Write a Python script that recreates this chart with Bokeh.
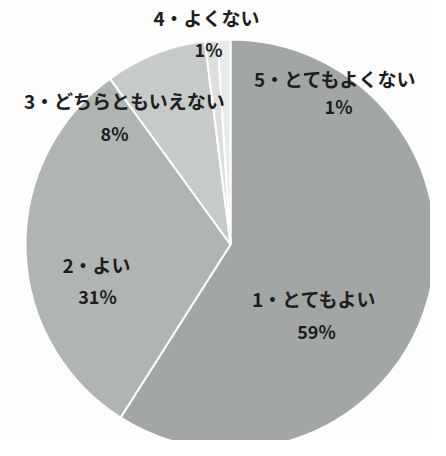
import numpy as np
from bokeh.plotting import figure
from bokeh.models import ColumnDataSource, Range1d
from bokeh.core.properties import value
from bokeh.embed import file_html
from bokeh.resources import INLINE

# data
categories = ["1・とてもよい", "2・よい", "3・どちらともいえない", "4・よくない", "5・とてもよくない"]
percents = [59, 31, 8, 1, 1]
pct_labels = ["59%", "31%", "8%", "1%", "1%"]
colors = ["#a2a7a5", "#b0b5b3", "#c6cac8", "#dcdfdd", "#e9ebea"]

W, H = 430, 440
p = figure(width=W, height=H, output_backend="svg", toolbar_location=None,
           x_range=Range1d(0, W), y_range=Range1d(0, H), min_border=0)
p.axis.visible = False
p.grid.visible = False
p.outline_line_color = None
p.background_fill_color = "#fdfdfd"
p.border_fill_color = "#fdfdfd"

cx, cy, r = 230, H - 244, 205
vals = np.array(percents, dtype=float)
cum = np.concatenate([[0], np.cumsum(vals) / vals.sum()])
start = np.pi / 2 - 2 * np.pi * cum[:-1]
end = np.pi / 2 - 2 * np.pi * cum[1:]
src = ColumnDataSource(dict(start=start, end=end, color=colors, cat=categories))
p.wedge(x=cx, y=cy, radius=r, start_angle="start", end_angle="end", direction="clock",
        fill_color="color", line_color="white", line_width=2, source=src)

# label positions (page px, figure coords)
lab_pos = {
    "1・とてもよい": (314, 298),
    "2・よい": (96, 264),
    "3・どちらともいえない": (124, 100),
    "4・よくない": (206, 17),
    "5・とてもよくない": (335, 78),
}
pct_pos = {
    "1・とてもよい": (316, 330),
    "2・よい": (97, 295),
    "3・どちらともいえない": (114, 132),
    "4・よくない": (208, 48),
    "5・とてもよくない": (338, 105),
}
lx = [lab_pos[c][0] for c in categories]
ly = [H - lab_pos[c][1] for c in categories]
px_ = [pct_pos[c][0] for c in categories]
py_ = [H - pct_pos[c][1] for c in categories]
font = value("Noto Sans CJK JP")
p.text(x=lx, y=ly, text=categories, text_font=font, text_font_size="19px",
       text_font_style="bold", text_align="center", text_baseline="middle", text_color="#1e1e1e")
p.text(x=px_, y=py_, text=pct_labels, text_font=font, text_font_size="18px",
       text_font_style="bold", text_align="center", text_baseline="middle", text_color="#1e1e1e")

open("out.html", "w").write(file_html(p, INLINE))
